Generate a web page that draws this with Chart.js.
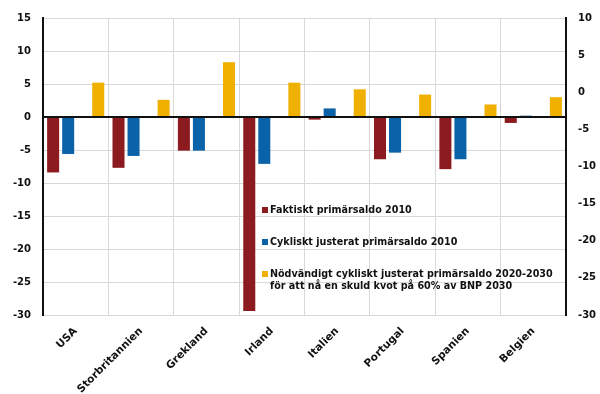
<!DOCTYPE html>
<html>
<head>
<meta charset="utf-8">
<script src="https://cdn.jsdelivr.net/npm/chart.js@4/dist/chart.umd.min.js"></script>
<style>
  html, body { margin: 0; padding: 0; background: #fff; }
  #wrap { width: 600px; height: 394px; }
</style>
</head>
<body>
<div id="wrap"><canvas id="saldo-chart" width="600" height="394"></canvas></div>
<script>
// Data
const countries = ['USA', 'Storbritannien', 'Grekland', 'Irland', 'Italien', 'Portugal', 'Spanien', 'Belgien'];
const faktiskt = [-8.4, -7.7, -5.1, -29.4, -0.4, -6.4, -7.9, -0.9];
const cykliskt = [-5.6, -5.9, -5.1, -7.1, 1.3, -5.4, -6.4, 0.2];
const nodvandigt = [5.2, 2.6, 8.3, 5.2, 4.2, 3.4, 1.9, 3.0];
const seriesLabels = [
    ['Faktiskt primärsaldo 2010'],
    ['Cykliskt justerat primärsaldo 2010'],
    ['Nödvändigt cykliskt justerat primärsaldo 2020-2030', 'för att nå en skuld kvot på 60% av BNP 2030']
];
const colors = ['#8c1b1f', '#0a62a8', '#efb000'];

const tickFont = { family: 'DejaVu Sans', size: 10, weight: 'bold' };

// Legend drawn inside the plot area, as in the original
const innerLegend = {
    id: 'innerLegend',
    afterDraw(chart) {
        const ctx = chart.ctx;
        const rows = [210, 242, 274];
        ctx.save();
        ctx.font = 'bold 9.6px "DejaVu Sans"';
        ctx.textBaseline = 'middle';
        seriesLabels.forEach((lines, i) => {
            ctx.fillStyle = colors[i];
            ctx.fillRect(262, rows[i] - 3, 6, 6);
            ctx.fillStyle = '#111';
            lines.forEach((txt, j) => {
                ctx.fillText(txt, 270, rows[i] + j * 12.5);
            });
        });
        ctx.restore();
    }
};

const ctx = document.getElementById('saldo-chart').getContext('2d');
const myChart = new Chart(ctx, {
    type: 'bar',
    data: {
        labels: countries,
        datasets: [
            { label: seriesLabels[0][0], data: faktiskt, backgroundColor: colors[0], yAxisID: 'y' },
            { label: seriesLabels[1][0], data: cykliskt, backgroundColor: colors[1], yAxisID: 'y' },
            // empty slot, the original leaves a gap before the yellow bar
            { label: '', data: countries.map(() => null), backgroundColor: 'rgba(0,0,0,0)', yAxisID: 'y' },
            { label: seriesLabels[2][0], data: nodvandigt, backgroundColor: colors[2], yAxisID: 'y' }
        ]
    },
    options: {
        responsive: false,
        animation: false,
        layout: { padding: { top: 18, left: 0, right: 0, bottom: 0 } },
        datasets: {
            bar: { categoryPercentage: 0.92, barPercentage: 0.8 }
        },
        plugins: {
            legend: { display: false },
            tooltip: { enabled: false }
        },
        scales: {
            x: {
                offset: true,
                grid: { color: '#d8d8d8', lineWidth: 1, offset: true, drawTicks: false },
                border: { display: false },
                ticks: {
                    font: { family: 'DejaVu Sans', size: 10.6, weight: 'bold' },
                    color: '#111',
                    minRotation: 45,
                    maxRotation: 45,
                    padding: 10
                },
                afterFit(scale) { scale.height = 79; }
            },
            y: {
                position: 'left',
                min: -30,
                max: 15,
                ticks: { stepSize: 5, font: tickFont, color: '#111', padding: 12 },
                grid: {
                    drawTicks: false,
                    color: c => c.tick && c.tick.value === 0 ? '#111' : '#d8d8d8',
                    lineWidth: c => c.tick && c.tick.value === 0 ? 2 : 1
                },
                border: { color: '#111', width: 2 },
                afterFit(scale) { scale.width = 43; }
            },
            y2: {
                position: 'right',
                min: -30,
                max: 10,
                ticks: { stepSize: 5, font: tickFont, color: '#111', padding: 12 },
                grid: { display: false, drawTicks: false },
                border: { color: '#111', width: 2 },
                afterFit(scale) { scale.width = 34; }
            }
        }
    },
    plugins: [innerLegend]
});
</script>
</body>
</html>
